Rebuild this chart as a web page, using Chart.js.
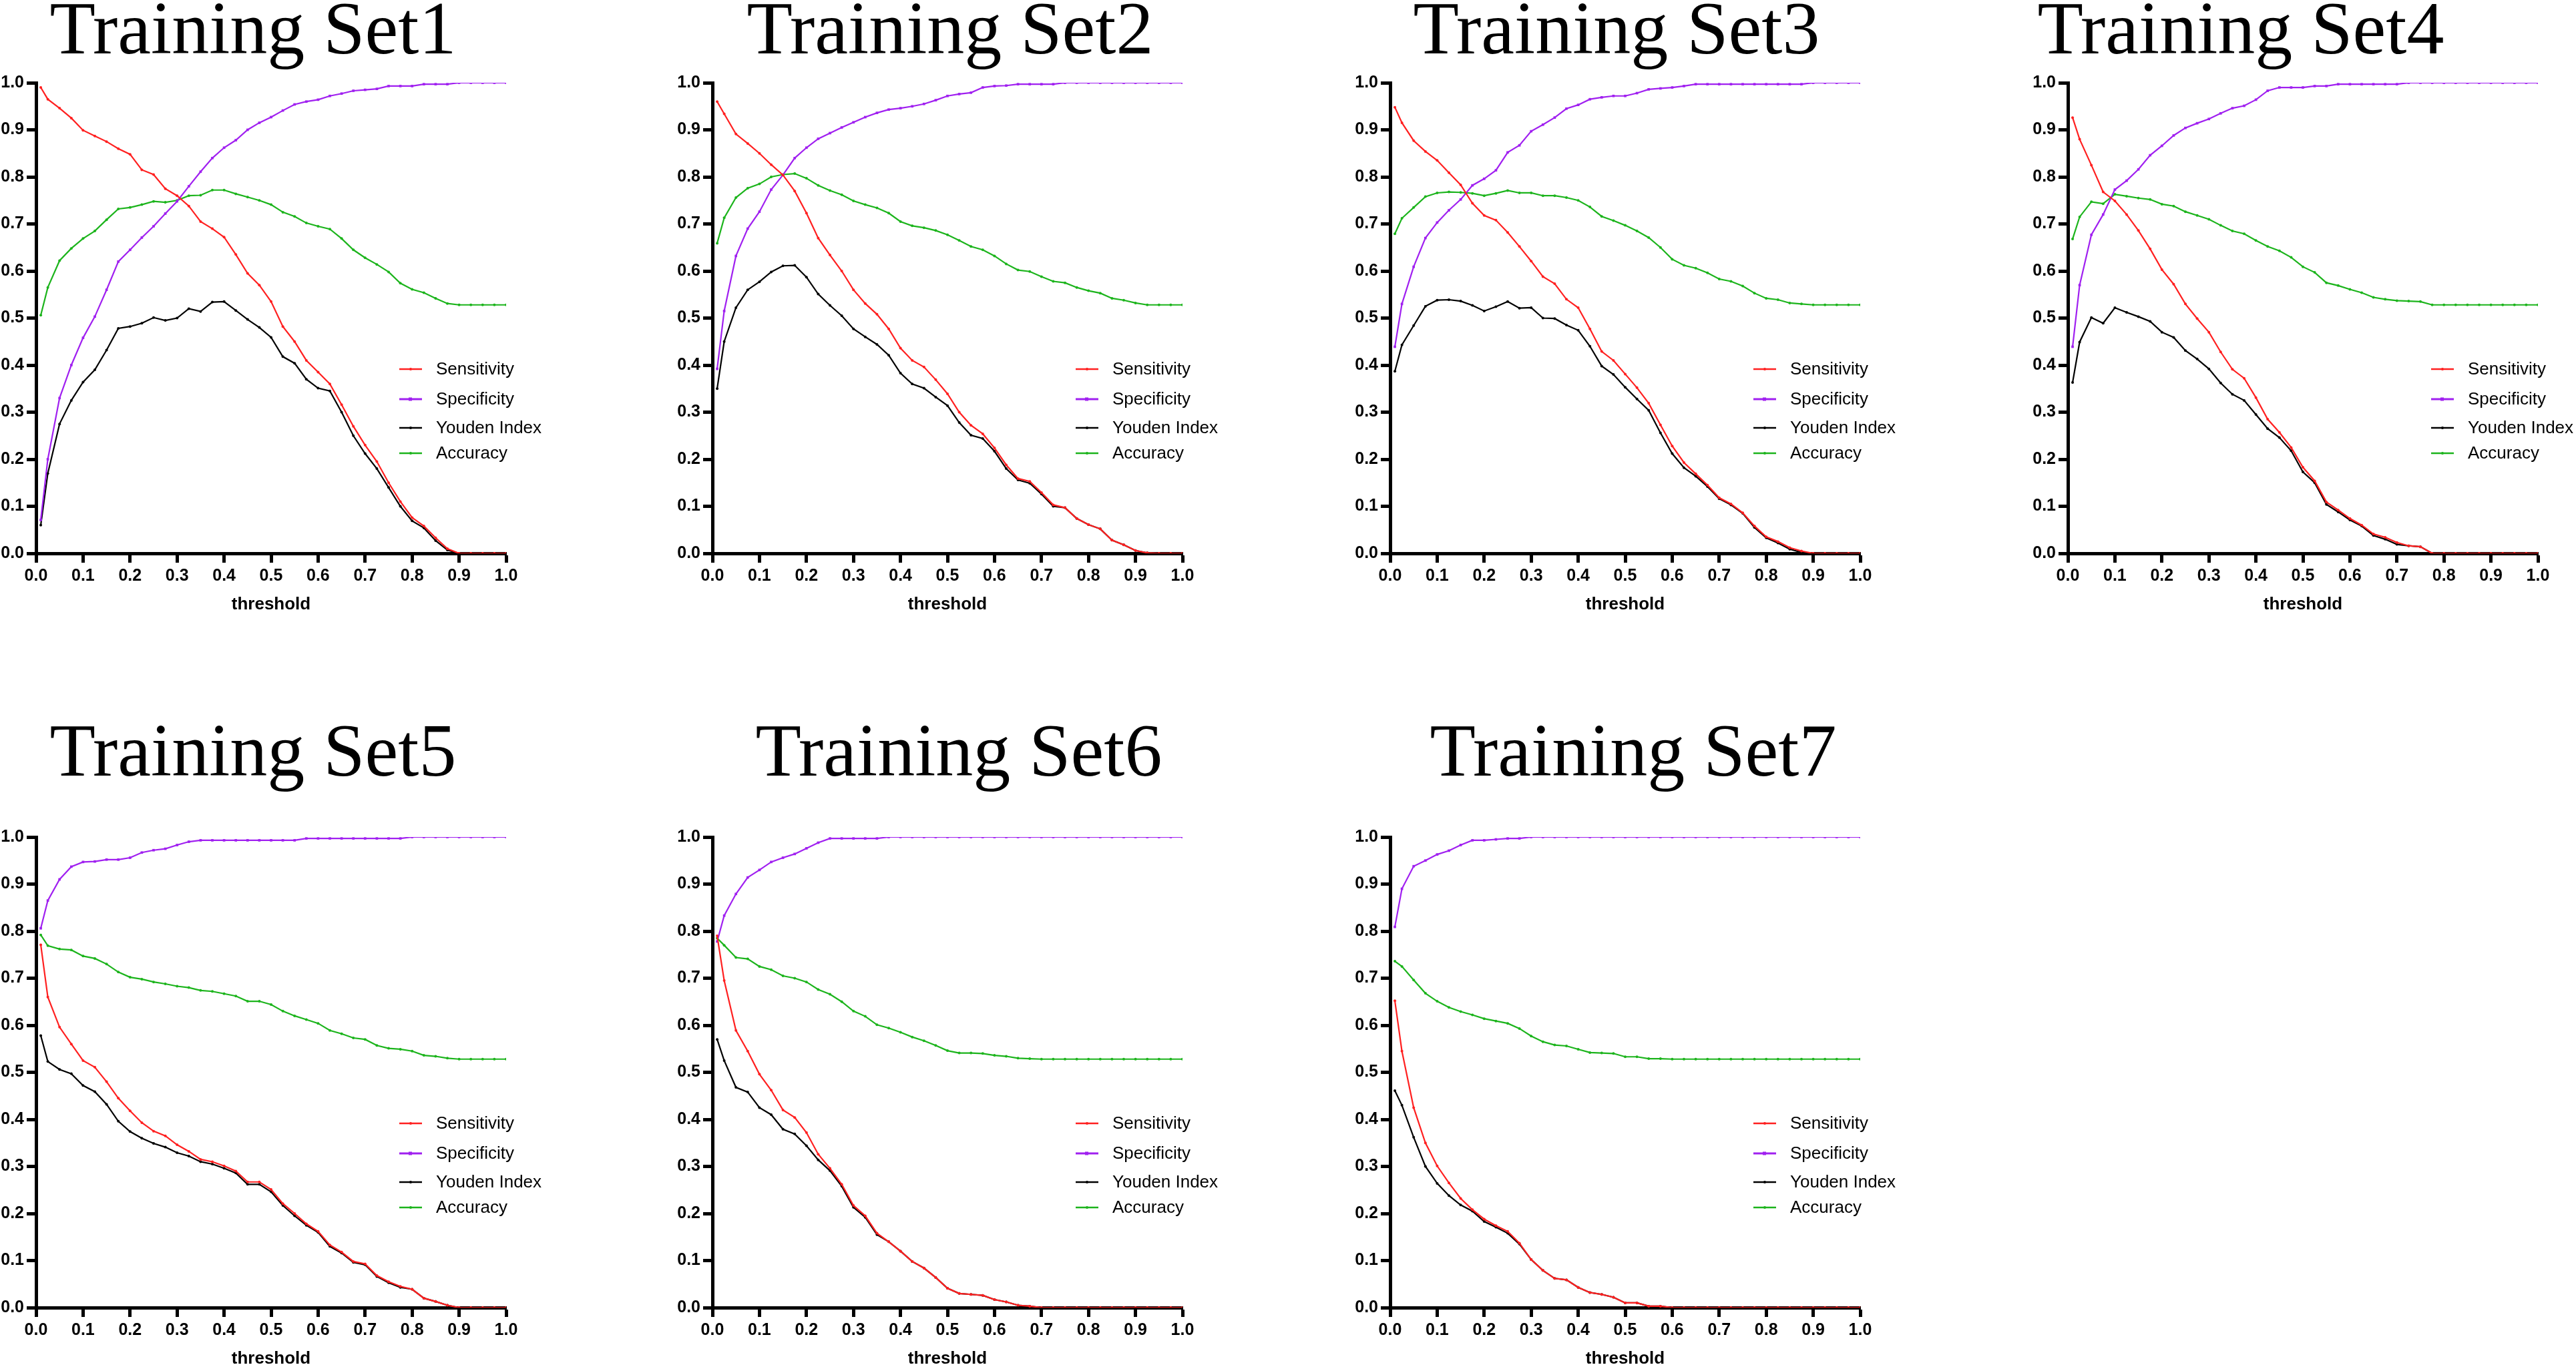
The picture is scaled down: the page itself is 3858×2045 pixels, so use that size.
<!DOCTYPE html>
<html>
<head>
<meta charset="utf-8">
<title>Training Sets - threshold curves</title>
<script src="https://cdn.jsdelivr.net/npm/chart.js@4.4.1/dist/chart.umd.min.js"></script>
<style>
  html, body { margin: 0; padding: 0; background: #fff; }
  body { width: 3858px; height: 2045px; position: relative; overflow: hidden; }
  canvas { position: absolute; }
</style>
</head>
<body>
<script>
// threshold values shared by every panel
const thresholds = [0.01, 0.025, 0.05, 0.075, 0.1, 0.125, 0.15, 0.175, 0.2, 0.225,
  0.25, 0.275, 0.3, 0.325, 0.35, 0.375, 0.4, 0.425, 0.45, 0.475,
  0.5, 0.525, 0.55, 0.575, 0.6, 0.625, 0.65, 0.675, 0.7, 0.725,
  0.75, 0.775, 0.8, 0.825, 0.85, 0.875, 0.9, 0.925, 0.95, 0.975,
  1.0];
const xTicks = [0, 0.1, 0.2, 0.3, 0.4, 0.5, 0.6, 0.7, 0.8, 0.9, 1.0];
const seriesNames = ['Sensitivity', 'Specificity', 'Youden Index', 'Accuracy'];
const panelTitles = ['Training Set1', 'Training Set2', 'Training Set3', 'Training Set4',
  'Training Set5', 'Training Set6', 'Training Set7'];

// Training Set1
const set1Sens = [0.99, 0.965, 0.946, 0.925, 0.899, 0.887, 0.875, 0.86, 0.848, 0.815,
  0.805, 0.775, 0.76, 0.738, 0.705, 0.69, 0.672, 0.635, 0.595, 0.57,
  0.535, 0.482, 0.45, 0.41, 0.385, 0.36, 0.316, 0.27, 0.23, 0.195,
  0.15, 0.11, 0.076, 0.058, 0.033, 0.01, 0, 0, 0, 0,
  0];
const set1Spec = [0.071, 0.2, 0.33, 0.40, 0.458, 0.503, 0.56, 0.62, 0.645, 0.671,
  0.695, 0.722, 0.748, 0.78, 0.811, 0.84, 0.862, 0.878, 0.90, 0.915,
  0.927, 0.941, 0.954, 0.96, 0.964, 0.972, 0.977, 0.983, 0.985, 0.987,
  0.993, 0.993, 0.993, 0.997, 0.997, 0.997, 1, 1, 1, 1,
  1];
const set1Youden = [0.06, 0.17, 0.275, 0.325, 0.364, 0.39, 0.432, 0.478, 0.482, 0.489,
  0.501, 0.495, 0.50, 0.52, 0.514, 0.534, 0.535, 0.516, 0.497, 0.48,
  0.459, 0.418, 0.404, 0.37, 0.351, 0.345, 0.30, 0.25, 0.212, 0.18,
  0.14, 0.10, 0.069, 0.054, 0.027, 0.007, 0, 0, 0, 0,
  0];
const set1Acc = [0.506, 0.565, 0.622, 0.648, 0.669, 0.685, 0.709, 0.732, 0.735, 0.741,
  0.748, 0.746, 0.75, 0.76, 0.761, 0.772, 0.772, 0.764, 0.757, 0.75,
  0.741, 0.725, 0.716, 0.702, 0.695, 0.689, 0.669, 0.645, 0.628, 0.614,
  0.598, 0.574, 0.561, 0.554, 0.542, 0.531, 0.528, 0.528, 0.528, 0.528,
  0.528];

// Training Set2
const set2Sens = [0.96, 0.934, 0.891, 0.871, 0.85, 0.826, 0.804, 0.77, 0.723, 0.67,
  0.634, 0.60, 0.56, 0.531, 0.508, 0.477, 0.436, 0.41, 0.396, 0.369,
  0.339, 0.30, 0.272, 0.254, 0.224, 0.188, 0.159, 0.153, 0.129, 0.103,
  0.097, 0.074, 0.061, 0.052, 0.028, 0.018, 0.006, 0.001, 0, 0,
  0];
const set2Spec = [0.392, 0.515, 0.632, 0.69, 0.726, 0.773, 0.804, 0.84, 0.862, 0.881,
  0.893, 0.905, 0.916, 0.927, 0.936, 0.943, 0.946, 0.95, 0.955, 0.963,
  0.972, 0.976, 0.979, 0.99, 0.993, 0.994, 0.997, 0.997, 0.997, 0.997,
  1, 1, 1, 1, 1, 1, 1, 1, 1, 1,
  1];
const set2Youden = [0.35, 0.45, 0.522, 0.56, 0.577, 0.598, 0.611, 0.612, 0.587, 0.551,
  0.527, 0.505, 0.477, 0.46, 0.444, 0.421, 0.383, 0.36, 0.351, 0.332,
  0.314, 0.278, 0.251, 0.244, 0.217, 0.18, 0.156, 0.149, 0.126, 0.1,
  0.097, 0.074, 0.061, 0.052, 0.028, 0.018, 0.006, 0.001, 0, 0,
  0];
const set2Acc = [0.659, 0.713, 0.756, 0.776, 0.785, 0.80, 0.805, 0.807, 0.797, 0.782,
  0.771, 0.762, 0.749, 0.741, 0.734, 0.723, 0.705, 0.696, 0.692, 0.686,
  0.677, 0.665, 0.652, 0.645, 0.632, 0.615, 0.602, 0.599, 0.588, 0.578,
  0.575, 0.565, 0.558, 0.553, 0.542, 0.538, 0.532, 0.528, 0.528, 0.528,
  0.528];

// Training Set3
const set3Sens = [0.948, 0.915, 0.877, 0.854, 0.835, 0.809, 0.783, 0.744, 0.718, 0.708,
  0.682, 0.652, 0.621, 0.588, 0.573, 0.54, 0.522, 0.477, 0.429, 0.41,
  0.381, 0.352, 0.319, 0.273, 0.228, 0.193, 0.169, 0.145, 0.118, 0.105,
  0.086, 0.058, 0.035, 0.025, 0.012, 0.005, 0, 0, 0, 0,
  0];
const set3Spec = [0.439, 0.53, 0.609, 0.67, 0.703, 0.729, 0.752, 0.782, 0.796, 0.814,
  0.852, 0.867, 0.897, 0.911, 0.926, 0.945, 0.953, 0.965, 0.969, 0.972,
  0.972, 0.978, 0.986, 0.988, 0.99, 0.993, 0.997, 0.997, 0.997, 0.997,
  0.997, 0.997, 0.997, 0.997, 0.997, 0.997, 1, 1, 1, 1,
  1];
const set3Youden = [0.387, 0.443, 0.484, 0.525, 0.538, 0.539, 0.536, 0.527, 0.515, 0.524,
  0.535, 0.521, 0.522, 0.50, 0.499, 0.485, 0.474, 0.44, 0.398, 0.38,
  0.353, 0.328, 0.304, 0.256, 0.212, 0.182, 0.164, 0.142, 0.116, 0.103,
  0.085, 0.055, 0.033, 0.022, 0.009, 0.002, 0, 0, 0, 0,
  0];
const set3Acc = [0.679, 0.712, 0.735, 0.758, 0.766, 0.768, 0.767, 0.765, 0.76, 0.765,
  0.771, 0.766, 0.766, 0.76, 0.76, 0.756, 0.75, 0.736, 0.716, 0.707,
  0.697, 0.685, 0.671, 0.65, 0.625, 0.612, 0.606, 0.596, 0.583, 0.578,
  0.568, 0.553, 0.542, 0.539, 0.532, 0.53, 0.528, 0.528, 0.528, 0.528,
  0.528];

// Training Set4
const set4Sens = [0.926, 0.88, 0.825, 0.768, 0.749, 0.72, 0.686, 0.647, 0.603, 0.572,
  0.53, 0.499, 0.47, 0.428, 0.391, 0.372, 0.331, 0.285, 0.257, 0.225,
  0.183, 0.154, 0.109, 0.092, 0.074, 0.06, 0.041, 0.034, 0.023, 0.016,
  0.014, 0, 0, 0, 0, 0, 0, 0, 0, 0,
  0];
const set4Spec = [0.439, 0.57, 0.677, 0.72, 0.773, 0.792, 0.816, 0.846, 0.866, 0.888,
  0.904, 0.914, 0.923, 0.935, 0.946, 0.951, 0.964, 0.983, 0.99, 0.99,
  0.99, 0.993, 0.993, 0.997, 0.997, 0.997, 0.997, 0.997, 0.997, 1,
  1, 1, 1, 1, 1, 1, 1, 1, 1, 1,
  1];
const set4Youden = [0.363, 0.449, 0.501, 0.489, 0.522, 0.512, 0.503, 0.493, 0.47, 0.459,
  0.431, 0.413, 0.392, 0.362, 0.338, 0.325, 0.295, 0.265, 0.246, 0.218,
  0.173, 0.15, 0.104, 0.088, 0.071, 0.058, 0.038, 0.03, 0.019, 0.016,
  0.014, 0, 0, 0, 0, 0, 0, 0, 0, 0,
  0];
const set4Acc = [0.668, 0.715, 0.747, 0.743, 0.763, 0.759, 0.755, 0.752, 0.742, 0.738,
  0.726, 0.718, 0.71, 0.697, 0.685, 0.679, 0.665, 0.652, 0.643, 0.629,
  0.609, 0.597, 0.575, 0.569, 0.561, 0.554, 0.544, 0.54, 0.537, 0.536,
  0.535, 0.528, 0.528, 0.528, 0.528, 0.528, 0.528, 0.528, 0.528, 0.528,
  0.528];

// Training Set5
const set5Sens = [0.771, 0.66, 0.596, 0.56, 0.525, 0.511, 0.48, 0.445, 0.418, 0.393,
  0.375, 0.365, 0.346, 0.332, 0.315, 0.31, 0.301, 0.29, 0.267, 0.267,
  0.251, 0.221, 0.20, 0.178, 0.162, 0.133, 0.118, 0.098, 0.093, 0.068,
  0.055, 0.045, 0.039, 0.02, 0.013, 0.005, 0, 0, 0, 0,
  0];
const set5Spec = [0.806, 0.865, 0.91, 0.937, 0.947, 0.948, 0.952, 0.952, 0.956, 0.967,
  0.972, 0.975, 0.983, 0.99, 0.993, 0.993, 0.993, 0.993, 0.993, 0.993,
  0.993, 0.993, 0.993, 0.997, 0.997, 0.997, 0.997, 0.997, 0.997, 0.997,
  0.997, 0.997, 1, 1, 1, 1, 1, 1, 1, 1,
  1];
const set5Youden = [0.578, 0.523, 0.506, 0.497, 0.472, 0.459, 0.432, 0.396, 0.374, 0.36,
  0.349, 0.341, 0.329, 0.322, 0.31, 0.305, 0.296, 0.286, 0.262, 0.262,
  0.246, 0.217, 0.195, 0.175, 0.16, 0.13, 0.116, 0.096, 0.091, 0.066,
  0.053, 0.043, 0.039, 0.02, 0.013, 0.005, 0, 0, 0, 0,
  0];
const set5Acc = [0.792, 0.769, 0.762, 0.76, 0.747, 0.742, 0.73, 0.713, 0.702, 0.698,
  0.692, 0.688, 0.683, 0.68, 0.674, 0.672, 0.667, 0.662, 0.651, 0.651,
  0.644, 0.63, 0.62, 0.612, 0.604, 0.589, 0.582, 0.573, 0.57, 0.557,
  0.551, 0.549, 0.545, 0.536, 0.534, 0.53, 0.528, 0.528, 0.528, 0.528,
  0.528];

// Training Set6
const set6Sens = [0.79, 0.695, 0.589, 0.545, 0.496, 0.462, 0.42, 0.404, 0.372, 0.326,
  0.296, 0.262, 0.217, 0.195, 0.158, 0.14, 0.12, 0.098, 0.084, 0.064,
  0.041, 0.03, 0.028, 0.026, 0.017, 0.012, 0.005, 0.003, 0, 0,
  0, 0, 0, 0, 0, 0, 0, 0, 0, 0,
  0];
const set6Spec = [0.778, 0.833, 0.879, 0.914, 0.93, 0.947, 0.956, 0.964, 0.976, 0.988,
  0.997, 0.997, 0.997, 0.997, 0.997, 1, 1, 1, 1, 1,
  1, 1, 1, 1, 1, 1, 1, 1, 1, 1,
  1, 1, 1, 1, 1, 1, 1, 1, 1, 1,
  1];
const set6Youden = [0.57, 0.525, 0.468, 0.458, 0.425, 0.41, 0.379, 0.369, 0.344, 0.314,
  0.291, 0.258, 0.213, 0.192, 0.155, 0.14, 0.12, 0.098, 0.084, 0.064,
  0.041, 0.03, 0.028, 0.026, 0.017, 0.012, 0.005, 0.003, 0, 0,
  0, 0, 0, 0, 0, 0, 0, 0, 0, 0,
  0];
const set6Acc = [0.785, 0.77, 0.744, 0.741, 0.725, 0.718, 0.705, 0.70, 0.692, 0.676,
  0.666, 0.65, 0.63, 0.619, 0.601, 0.594, 0.585, 0.575, 0.567, 0.557,
  0.546, 0.541, 0.541, 0.54, 0.536, 0.534, 0.53, 0.529, 0.528, 0.528,
  0.528, 0.528, 0.528, 0.528, 0.528, 0.528, 0.528, 0.528, 0.528, 0.528,
  0.528];

// Training Set7
const set7Sens = [0.652, 0.545, 0.425, 0.35, 0.301, 0.265, 0.232, 0.208, 0.188, 0.174,
  0.162, 0.137, 0.102, 0.079, 0.062, 0.059, 0.043, 0.032, 0.028, 0.022,
  0.01, 0.01, 0.003, 0.003, 0, 0, 0, 0, 0, 0,
  0, 0, 0, 0, 0, 0, 0, 0, 0, 0,
  0];
const set7Spec = [0.809, 0.89, 0.938, 0.95, 0.963, 0.971, 0.983, 0.993, 0.993, 0.995,
  0.997, 0.997, 1, 1, 1, 1, 1, 1, 1, 1,
  1, 1, 1, 1, 1, 1, 1, 1, 1, 1,
  1, 1, 1, 1, 1, 1, 1, 1, 1, 1,
  1];
const set7Youden = [0.461, 0.43, 0.362, 0.30, 0.264, 0.238, 0.218, 0.205, 0.183, 0.171,
  0.158, 0.135, 0.102, 0.079, 0.062, 0.059, 0.043, 0.032, 0.028, 0.022,
  0.01, 0.01, 0.003, 0.003, 0, 0, 0, 0, 0, 0,
  0, 0, 0, 0, 0, 0, 0, 0, 0, 0,
  0];
const set7Acc = [0.736, 0.725, 0.696, 0.668, 0.651, 0.638, 0.629, 0.622, 0.614, 0.609,
  0.604, 0.593, 0.577, 0.565, 0.558, 0.556, 0.549, 0.542, 0.541, 0.54,
  0.533, 0.533, 0.529, 0.529, 0.528, 0.528, 0.528, 0.528, 0.528, 0.528,
  0.528, 0.528, 0.528, 0.528, 0.528, 0.528, 0.528, 0.528, 0.528, 0.528,
  0.528];

const panelSeries = [
  [set1Sens, set1Spec, set1Youden, set1Acc],
  [set2Sens, set2Spec, set2Youden, set2Acc],
  [set3Sens, set3Spec, set3Youden, set3Acc],
  [set4Sens, set4Spec, set4Youden, set4Acc],
  [set5Sens, set5Spec, set5Youden, set5Acc],
  [set6Sens, set6Spec, set6Youden, set6Acc],
  [set7Sens, set7Spec, set7Youden, set7Acc]
];

// styling / layout (page pixels)
const seriesColors = ['#ff2020', '#a020f0', '#000000', '#1cb41c'];
const axisLeft = [54, 1067, 2082, 3097, 54, 1067, 2082];
const plotTop = [124, 124, 124, 124, 1254, 1254, 1254];
const titleCenter = [379, 1423, 2421, 3356, 379, 1436, 2446];
const titleRise = [44, 44, 44, 44, 92, 92, 92];
const legendRows = [429, 474, 517, 555];

const CANVAS_W = 880, CANVAS_H = 985;
const PAD_TOP = 180, Y_AXIS_W = 60, X_AXIS_H = 100;

Chart.defaults.font.family = '"Liberation Sans", Arial, sans-serif';
Chart.defaults.color = '#000';

const panelTitlePlugin = {
  id: 'panelTitle',
  afterDraw(chart, args, opts) {
    const ctx = chart.ctx;
    ctx.save();
    ctx.font = '112px "Liberation Serif", "Times New Roman", serif';
    ctx.fillStyle = '#000';
    ctx.textAlign = 'center';
    ctx.textBaseline = 'alphabetic';
    ctx.fillText(opts.text, opts.x, chart.chartArea.top - opts.rise);
    ctx.restore();
  }
};

const insideLegendPlugin = {
  id: 'insideLegend',
  afterDatasetsDraw(chart) {
    const {ctx, chartArea: {left, top}} = chart;
    ctx.save();
    chart.data.datasets.forEach((ds, i) => {
      const y = top + legendRows[i];
      ctx.strokeStyle = ds.borderColor;
      ctx.lineWidth = i === 1 ? 3 : 2.5;
      ctx.beginPath();
      ctx.moveTo(left + 544, y);
      ctx.lineTo(left + 578, y);
      ctx.stroke();
      ctx.fillStyle = ds.borderColor;
      if (i === 1) ctx.fillRect(left + 558, y - 2.5, 5, 5);
      else { ctx.beginPath(); ctx.arc(left + 561, y, 2, 0, Math.PI * 2); ctx.fill(); }
      ctx.fillStyle = '#000';
      ctx.font = '26px "Liberation Sans", Arial, sans-serif';
      ctx.textAlign = 'left';
      ctx.textBaseline = 'middle';
      ctx.fillText(ds.label, left + 599, y + 1);
    });
    ctx.restore();
  }
};

function makeDatasets(series) {
  return series.map((vals, i) => ({
    label: seriesNames[i],
    data: thresholds.map((t, k) => ({ x: t, y: vals[k] })),
    borderColor: seriesColors[i],
    backgroundColor: seriesColors[i],
    borderWidth: 2.2,
    tension: 0,
    pointStyle: i === 1 ? 'rect' : 'circle',
    pointRadius: i === 1 ? 2.6 : 2,
    pointBorderWidth: 0,
    pointBackgroundColor: seriesColors[i],
    fill: false
  }));
}

function axisCommon() {
  return {
    type: 'linear',
    min: 0,
    max: 1,
    grid: {
      display: true,
      drawOnChartArea: false,
      drawTicks: true,
      tickLength: 14,
      tickWidth: 5,
      tickColor: '#000'
    },
    border: { display: true, color: '#000', width: 5 }
  };
}

panelTitles.forEach((title, p) => {
  const canvas = document.createElement('canvas');
  const left = axisLeft[p] - Y_AXIS_W;
  const top = plotTop[p] - PAD_TOP;
  canvas.width = CANVAS_W;
  canvas.height = CANVAS_H;
  canvas.style.left = left + 'px';
  canvas.style.top = top + 'px';
  canvas.style.width = CANVAS_W + 'px';
  canvas.style.height = CANVAS_H + 'px';
  document.body.appendChild(canvas);

  const xAxis = axisCommon();
  xAxis.afterBuildTicks = (scale) => { scale.ticks = xTicks.map(v => ({ value: v })); };
  xAxis.afterFit = (scale) => { scale.height = X_AXIS_H; };
  xAxis.ticks = {
    autoSkip: false,
    maxRotation: 0,
    padding: 5,
    color: '#000',
    font: { size: 25, weight: 'bold' },
    callback: (v) => Number(v).toFixed(1)
  };
  xAxis.title = {
    display: true,
    text: 'threshold',
    color: '#000',
    font: { size: 26, weight: 'bold' },
    padding: { top: 0, bottom: 8 }
  };

  const yAxis = axisCommon();
  yAxis.afterBuildTicks = (scale) => { scale.ticks = xTicks.map(v => ({ value: v })); };
  yAxis.afterFit = (scale) => { scale.width = Y_AXIS_W; };
  yAxis.ticks = {
    autoSkip: false,
    padding: 4,
    color: '#000',
    font: { size: 25, weight: 'bold' },
    callback: (v) => Number(v).toFixed(1)
  };

  new Chart(canvas, {
    type: 'line',
    data: { datasets: makeDatasets(panelSeries[p]) },
    options: {
      responsive: false,
      animation: false,
      devicePixelRatio: 1,
      layout: { padding: { top: PAD_TOP, right: CANVAS_W - Y_AXIS_W - 704, bottom: 0, left: 0 } },
      scales: { x: xAxis, y: yAxis },
      plugins: {
        legend: { display: false },
        tooltip: { enabled: false },
        panelTitle: { text: title, x: titleCenter[p] - left, rise: titleRise[p] }
      }
    },
    plugins: [panelTitlePlugin, insideLegendPlugin]
  });
});
</script>
</body>
</html>
